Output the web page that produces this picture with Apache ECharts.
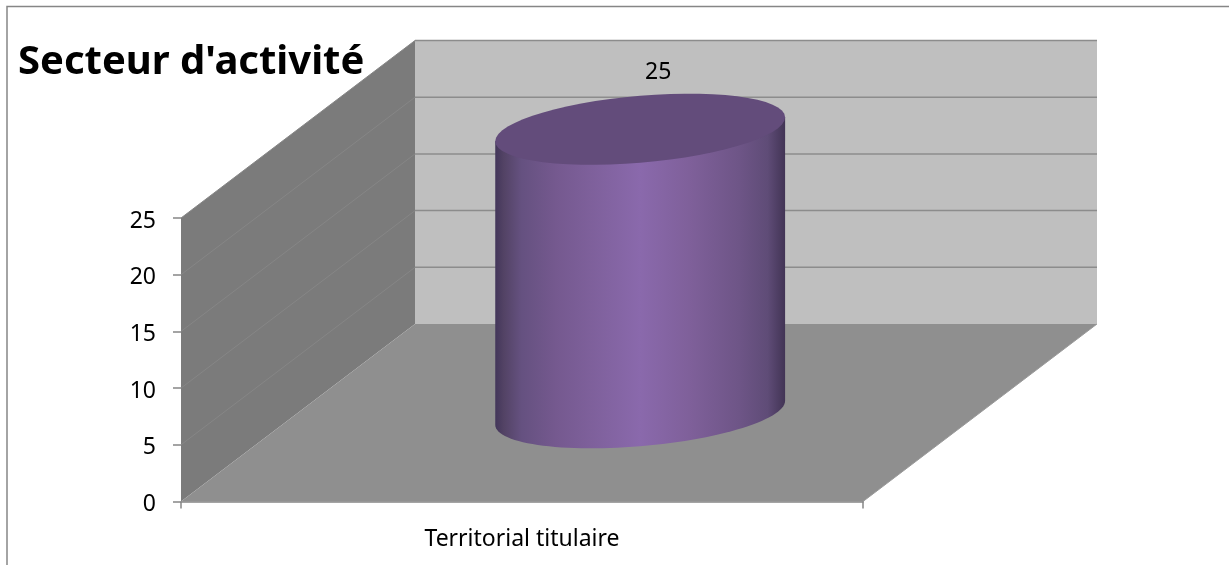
<!DOCTYPE html>
<html>
<head>
<meta charset="utf-8">
<script src="https://cdn.jsdelivr.net/npm/echarts@6/dist/echarts.min.js"></script>
<style>
    html, body { margin: 0; padding: 0; background: #fff; }
    #main { width: 1229px; height: 565px; }
</style>
</head>
<body>
<div id="main"></div>
<script>
var categories = ['Territorial titulaire'];
var values = [25];
var yTicks = [0, 5, 10, 15, 20, 25];

// fake 3D: how far the back wall sits from the front plane, in pixels
var depthX = 234;
var depthY = 177.5;
var fontName = '"Noto Sans", sans-serif';

// walls, floor and gridlines
function renderWalls(params, api) {
    var band = api.size([1, 0])[0];
    var f0 = api.coord([0, yTicks[0]]);
    var f1 = api.coord([0, yTicks[yTicks.length - 1]]);
    var left = f0[0] - band / 2;
    var right = f0[0] + band / 2;
    var children = [];
    function poly(points, color) {
        children.push({ type: 'polygon', shape: { points: points }, style: { fill: color } });
    }
    function line(x1, y1, x2, y2, color, width) {
        children.push({ type: 'line', shape: { x1: x1, y1: y1, x2: x2, y2: y2 }, style: { stroke: color, lineWidth: width } });
    }
    // back wall
    poly([[left + depthX, f1[1] - depthY], [right + depthX, f1[1] - depthY], [right + depthX, f0[1] - depthY], [left + depthX, f0[1] - depthY]], '#bfbfbf');
    // side wall
    poly([[left, f0[1]], [left, f1[1]], [left + depthX, f1[1] - depthY], [left + depthX, f0[1] - depthY]], '#7b7b7b');
    // floor
    poly([[left, f0[1]], [right, f0[1]], [right + depthX, f0[1] - depthY], [left + depthX, f0[1] - depthY]], '#8f8f8f');
    yTicks.forEach(function (t) {
        var y = api.coord([0, t])[1];
        if (t > 0) {
            line(left, y, left + depthX, y - depthY, '#868686', 1);
            line(left + depthX, y - depthY, right + depthX, y - depthY, '#8c8c8c', 1.5);
        }
    });
    line(right, f0[1], right + depthX, f0[1] - depthY, '#9a9a9a', 1);
    return { type: 'group', children: children };
}

// the cylinder, standing in the middle of the floor depth
function renderCylinder(params, api) {
    var band = api.size([1, 0])[0];
    var base = api.coord([api.value(0), 0]);
    var top = api.coord([api.value(0), api.value(1)]);
    var cx = base[0] + depthX * 0.505;
    var yb = base[1] - depthY / 2;
    var yt = top[1] - depthY / 2;
    var rx = band * 0.2125;
    var tilt = 12;
    var ry = 33.5;
    function ellipse(cy, from, to) {
        var pts = [];
        for (var i = 0; i <= 60; i++) {
            var a = from + (to - from) * i / 60;
            pts.push([cx + rx * Math.cos(a), cy - tilt * Math.cos(a) + ry * Math.sin(a)]);
        }
        return pts;
    }
    var body = [[cx - rx, yt + tilt], [cx + rx, yt - tilt]].concat(ellipse(yb, 0, Math.PI));
    return {
        type: 'group',
        children: [{
            type: 'polygon',
            shape: { points: body },
            style: {
                fill: new echarts.graphic.LinearGradient(0, 0, 1, 0, [
                    { offset: 0, color: '#43365a' },
                    { offset: 0.03, color: '#534365' },
                    { offset: 0.09, color: '#655180' },
                    { offset: 0.21, color: '#75598f' },
                    { offset: 0.33, color: '#7e609b' },
                    { offset: 0.5, color: '#8a69ac' },
                    { offset: 0.67, color: '#7f609a' },
                    { offset: 0.84, color: '#6e5587' },
                    { offset: 0.94, color: '#5f4c77' },
                    { offset: 1, color: '#423455' }
                ])
            }
        }, {
            type: 'polygon',
            shape: { points: ellipse(yt, 0, Math.PI * 2) },
            style: { fill: '#634c7b' }
        }, {
            type: 'text',
            style: {
                text: String(api.value(1)),
                x: cx + 18,
                y: yt - 57,
                align: 'center',
                verticalAlign: 'middle',
                fill: '#000',
                font: '23px ' + fontName
            }
        }]
    };
}

var myChart = echarts.init(document.getElementById('main'));
var option = {
    animation: false,
    title: {
        text: "Secteur d'activité",
        left: 18,
        top: 43,
        padding: 0,
        textStyle: { fontFamily: fontName, fontWeight: 'bold', fontSize: 40, color: '#000' }
    },
    grid: { left: 181, right: 366, top: 218, bottom: 63.5 },
    xAxis: {
        type: 'category',
        data: categories,
        z: 5,
        axisLine: { lineStyle: { color: '#868686', width: 1.5 } },
        axisTick: { show: true, length: 7, lineStyle: { color: '#868686', width: 1.5 } },
        axisLabel: { margin: 26, color: '#000', fontFamily: fontName, fontSize: 23 }
    },
    yAxis: {
        type: 'value',
        min: 0,
        max: 25,
        interval: 5,
        z: 5,
        axisLine: { show: false },
        axisTick: { show: true, length: 8, lineStyle: { color: '#868686', width: 1.5 } },
        axisLabel: { margin: 25, verticalAlign: 'top', lineHeight: 6, color: '#000', fontFamily: fontName, fontSize: 23 },
        splitLine: { show: false }
    },
    graphic: [{
        type: 'polyline',
        silent: true,
        shape: { points: [[7, 565], [7, 6.5], [1229, 6.5]] },
        style: { stroke: '#868686', lineWidth: 1.5, fill: null }
    }],
    series: [{
        type: 'custom',
        silent: true,
        z: 1,
        clip: false,
        renderItem: renderWalls,
        data: [[0, 0]]
    }, {
        type: 'custom',
        silent: true,
        z: 2,
        clip: false,
        renderItem: renderCylinder,
        data: values.map(function (v, i) { return [i, v]; })
    }]
};
myChart.setOption(option, true);
window.onresize = myChart.resize;
</script>
</body>
</html>
